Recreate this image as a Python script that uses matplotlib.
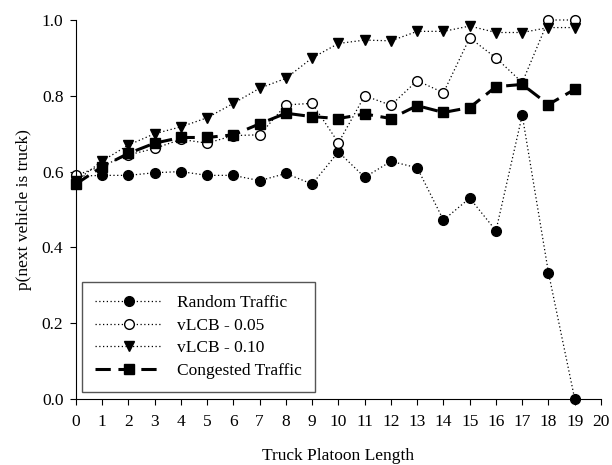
"""Probability that the next vehicle is a truck, by truck platoon length."""

import matplotlib

matplotlib.use("Agg")
import matplotlib.pyplot as plt

plt.rcParams["font.family"] = ["Liberation Serif", "DejaVu Serif"]
plt.rcParams["font.size"] = 12.5

platoon_length = list(range(20))

random_traffic = [0.588, 0.590, 0.590, 0.597, 0.600, 0.590, 0.590, 0.576, 0.595, 0.567,
                  0.652, 0.585, 0.627, 0.610, 0.472, 0.530, 0.444, 0.749, 0.333, 0.0]
vlcb_005 = [0.590, 0.615, 0.644, 0.661, 0.685, 0.675, 0.695, 0.697, 0.776, 0.780,
            0.676, 0.800, 0.775, 0.840, 0.808, 0.953, 0.900, 0.835, 1.0, 1.0]
vlcb_010 = [0.575, 0.628, 0.670, 0.700, 0.718, 0.742, 0.780, 0.820, 0.846, 0.900,
            0.938, 0.947, 0.945, 0.970, 0.970, 0.984, 0.967, 0.967, 0.980, 0.980]
congested = [0.567, 0.613, 0.648, 0.675, 0.690, 0.690, 0.697, 0.726, 0.754, 0.745,
             0.740, 0.752, 0.740, 0.774, 0.756, 0.769, 0.824, 0.830, 0.777, 0.817]

x_ticks = list(range(21))
y_ticks = [0.0, 0.2, 0.4, 0.6, 0.8, 1.0]

fig = plt.figure(figsize=(6.12, 4.65), dpi=100)
ax = fig.add_axes([0.124, 0.142, 0.858, 0.815])

# dotted series share one look; only the markers differ
dot_style = dict(color="black", linestyle=(0, (1, 2)), linewidth=0.9, markersize=7,
                 clip_on=False)
ax.plot(platoon_length, random_traffic, marker="o", markerfacecolor="black",
        label="Random Traffic", **dot_style)
ax.plot(platoon_length, vlcb_005, marker="o", markerfacecolor="white",
        label="vLCB - 0.05", **dot_style)
ax.plot(platoon_length, vlcb_010, marker="v", markerfacecolor="black",
        label="vLCB - 0.10", **dot_style)
ax.plot(platoon_length, congested, color="black", linestyle=(0, (5, 2.5)), linewidth=2.2,
        marker="s", markersize=6.5, clip_on=False, label="Congested Traffic")

ax.set_xlim(0, 20)
ax.set_ylim(0, 1.0)
ax.set_xticks(x_ticks)
ax.set_yticks(y_ticks)
ax.set_yticklabels([f"{v:.1f}" for v in y_ticks])
ax.spines["top"].set_visible(False)
ax.spines["right"].set_visible(False)
ax.tick_params(direction="out", length=4, width=0.8, labelsize=12.5)
ax.tick_params(axis="x", pad=7)
ax.tick_params(axis="y", pad=5)

ax.set_xlabel("Truck Platoon Length", labelpad=13)
ax.set_ylabel("p(next vehicle is truck)", labelpad=7)

leg = ax.legend(loc="lower left", bbox_to_anchor=(0.011, 0.018), borderaxespad=0,
                handlelength=3.9, fancybox=False, edgecolor="#555555", framealpha=1,
                fontsize=12.5, borderpad=0.75, labelspacing=0.38, handletextpad=0.85)
leg.get_frame().set_linewidth(1.0)

fig.savefig("out.png", dpi=100)
